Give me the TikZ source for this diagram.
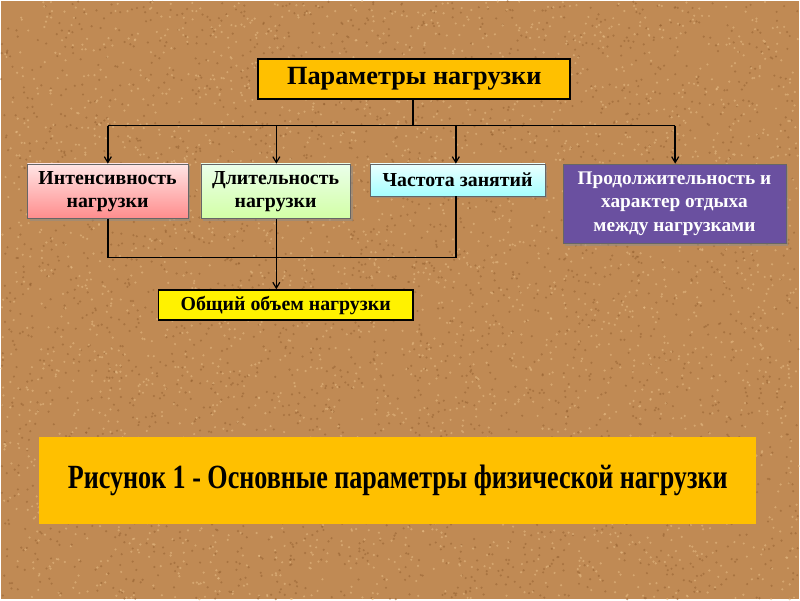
\documentclass[tikz,border=0pt]{standalone}
\usepackage{fontspec}
\setmainfont{Liberation Serif}
\usetikzlibrary{arrows.meta,shadows}
\definecolor{sand}{RGB}{192,138,84}
\definecolor{sanddark}{RGB}{150,98,50}
\definecolor{sandlight}{RGB}{228,185,130}
\definecolor{gold}{RGB}{255,192,0}
\definecolor{purp}{RGB}{106,80,160}
\tikzset{
  x=0.03cm,y=-0.03cm,
  box/.style={draw=black!60,line width=0.4pt,align=center,font=\bfseries\fontsize{17}{19.5}\selectfont,inner sep=0pt,anchor=north west,drop shadow={shadow xshift=2pt,shadow yshift=-2pt,fill=black!45,opacity=0.5}},
  conn/.style={line width=1.3pt,black},
  arr/.style={conn,-{Straight Barb[length=5pt,width=6pt,line width=1pt]}},
}
\begin{document}
\begin{tikzpicture}
\fill[sand] (0,0) rectangle (800,600);
\pgfmathsetseed{7}
\foreach \i in {1,...,3000}{
  \pgfmathsetmacro{\px}{rnd*800}\pgfmathsetmacro{\py}{rnd*600}
  \fill[sanddark,opacity=0.55] (\px,\py) circle (1.2);
}
\foreach \i in {1,...,3000}{
  \pgfmathsetmacro{\px}{rnd*800}\pgfmathsetmacro{\py}{rnd*600}
  \fill[sandlight,opacity=0.6] (\px,\py) circle (1.2);
}
\useasboundingbox (0,0) rectangle (800,600);

\node[draw=black,line width=1.5pt,fill=gold,minimum width=313*0.03cm,minimum height=40*0.03cm,inner sep=0pt,anchor=north west,font=\bfseries\fontsize{22.5}{26}\selectfont] (top) at (257,57) {Параметры нагрузки};

\node[box,top color=red!10,bottom color=red!45!white,minimum width=161*0.03cm,minimum height=55*0.03cm] (b1) at (26,163) {Интенсивность\\нагрузки};
\node[box,top color=green!8!white,bottom color=green!50!yellow!35!white,minimum width=150*0.03cm,minimum height=55*0.03cm] (b2) at (200,163) {Длительность\\нагрузки};
\node[box,top color=cyan!8!white,bottom color=cyan!35!white,minimum width=175*0.03cm,minimum height=32*0.03cm] (b3) at (370,163) {Частота занятий};
\node[box,fill=purp,text=white,minimum width=224*0.03cm,minimum height=80*0.03cm,font=\bfseries\fontsize{16.5}{20}\selectfont] (b4) at (563,163) {Продолжительность и\\характер отдыха\\между нагрузками};

\node[draw=black,line width=1.5pt,fill=yellow,minimum width=255*0.03cm,minimum height=30*0.03cm,inner sep=0pt,anchor=north west,font=\bfseries\fontsize{17}{19}\selectfont] (b5) at (157,289) {Общий объем нагрузки};

\node[fill=gold,minimum width=719*0.03cm,minimum height=87*0.03cm,inner sep=0pt,anchor=north west,font=\bfseries\fontsize{29}{32}\selectfont] (cap) at (38,437) {\scalebox{0.77}[1]{Рисунок 1 - Основные параметры физической нагрузки}};

\coordinate (j) at (413,125);
\draw[conn] (top.south -| j) -- (j);
\draw[conn] (107,125) -- (676,125);
\draw[arr] (107,125) -- (b1.north -| 107,0);
\draw[arr] (276,125) -- (b2.north -| 276,0);
\draw[arr] (456,125) -- (b3.north -| 456,0);
\draw[arr] (676,125) -- (b4.north -| 676,0);

\draw[conn] (b1.south -| 107,0) -- (107,257) -- (456,257) -- (b3.south -| 456,0);
\draw[arr] (b2.south -| 276,0) -- (b5.north -| 276,0);
\end{tikzpicture}
\end{document}
